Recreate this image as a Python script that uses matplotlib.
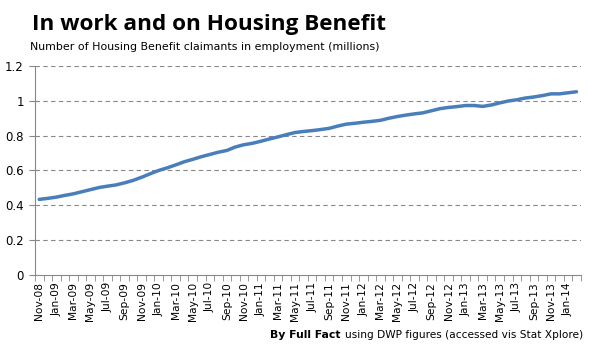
import matplotlib.pyplot as plt
import numpy as np

months = ['Nov-08', 'Dec-08', 'Jan-09', 'Feb-09', 'Mar-09', 'Apr-09', 'May-09', 'Jun-09',
          'Jul-09', 'Aug-09', 'Sep-09', 'Oct-09', 'Nov-09', 'Dec-09', 'Jan-10', 'Feb-10',
          'Mar-10', 'Apr-10', 'May-10', 'Jun-10', 'Jul-10', 'Aug-10', 'Sep-10', 'Oct-10',
          'Nov-10', 'Dec-10', 'Jan-11', 'Feb-11', 'Mar-11', 'Apr-11', 'May-11', 'Jun-11',
          'Jul-11', 'Aug-11', 'Sep-11', 'Oct-11', 'Nov-11', 'Dec-11', 'Jan-12', 'Feb-12',
          'Mar-12', 'Apr-12', 'May-12', 'Jun-12', 'Jul-12', 'Aug-12', 'Sep-12', 'Oct-12',
          'Nov-12', 'Dec-12', 'Jan-13', 'Feb-13', 'Mar-13', 'Apr-13', 'May-13', 'Jun-13',
          'Jul-13', 'Aug-13', 'Sep-13', 'Oct-13', 'Nov-13', 'Dec-13', 'Jan-14', 'Feb-14']

claimants = [0.434, 0.440, 0.447, 0.457, 0.466, 0.478, 0.490, 0.502,
             0.510, 0.517, 0.529, 0.543, 0.561, 0.581, 0.600, 0.615,
             0.632, 0.650, 0.664, 0.679, 0.692, 0.705, 0.715, 0.735,
             0.748, 0.756, 0.768, 0.781, 0.793, 0.806, 0.818, 0.824,
             0.829, 0.835, 0.842, 0.855, 0.866, 0.871, 0.877, 0.882,
             0.888, 0.900, 0.910, 0.918, 0.925, 0.931, 0.943, 0.955,
             0.962, 0.967, 0.973, 0.973, 0.968, 0.976, 0.988, 0.999,
             1.006, 1.016, 1.022, 1.030, 1.040, 1.040, 1.046, 1.052]

yticks = [0, 0.2, 0.4, 0.6, 0.8, 1, 1.2]
ytick_labels = ['0', '0.2', '0.4', '0.6', '0.8', '1', '1.2']

fig = plt.figure(figsize=(5.89, 3.54), dpi=100)
ax = fig.add_axes([0.0594, 0.2232, 0.9266, 0.5904])

x = np.arange(len(months))
ax.plot(x, claimants, color='#4a7ebb', lw=2.5, solid_capstyle='round')

ax.set_xlim(-0.5, len(months) - 0.5)
ax.set_ylim(0, 1.2)

ax.set_yticks(yticks)
ax.set_yticklabels(ytick_labels, fontsize=8.5)
for y in yticks[1:]:
    ax.axhline(y, color='#888888', lw=0.8, ls=(0, (4, 3)), zorder=0)

ax.set_xticks(x[::2])
ax.set_xticklabels(months[::2], rotation=90, fontsize=7.7)
ax.set_xticks(np.arange(-0.5, len(months)), minor=True)
ax.tick_params(axis='x', which='major', length=0, pad=5)
ax.tick_params(axis='x', which='minor', length=4, color='#888888', direction='out')
ax.tick_params(axis='y', length=4, color='#888888', direction='out', pad=4)

for side in ['top', 'right']:
    ax.spines[side].set_visible(False)
for side in ['left', 'bottom']:
    ax.spines[side].set_color('#888888')
    ax.spines[side].set_linewidth(0.8)

fig.text(0.054, 0.915, 'In work and on Housing Benefit', fontsize=16.2, fontweight='bold',
         family='Open Sans', va='baseline')
fig.text(0.051, 0.858, 'Number of Housing Benefit claimants in employment (millions)',
         fontsize=7.9, va='baseline')

# footer: normal text right-aligned, bold part placed just left of it
foot = fig.text(0.99, 0.045, 'using DWP figures (accessed vis Stat Xplore)', fontsize=7.6,
                ha='right', va='baseline')
fig.canvas.draw()
bb = foot.get_window_extent()
fig.text((bb.x0 - 4) / fig.bbox.width, 0.045, 'By Full Fact', fontsize=7.8,
         fontweight='bold', ha='right', va='baseline')

fig.savefig('out.png', dpi=100)
